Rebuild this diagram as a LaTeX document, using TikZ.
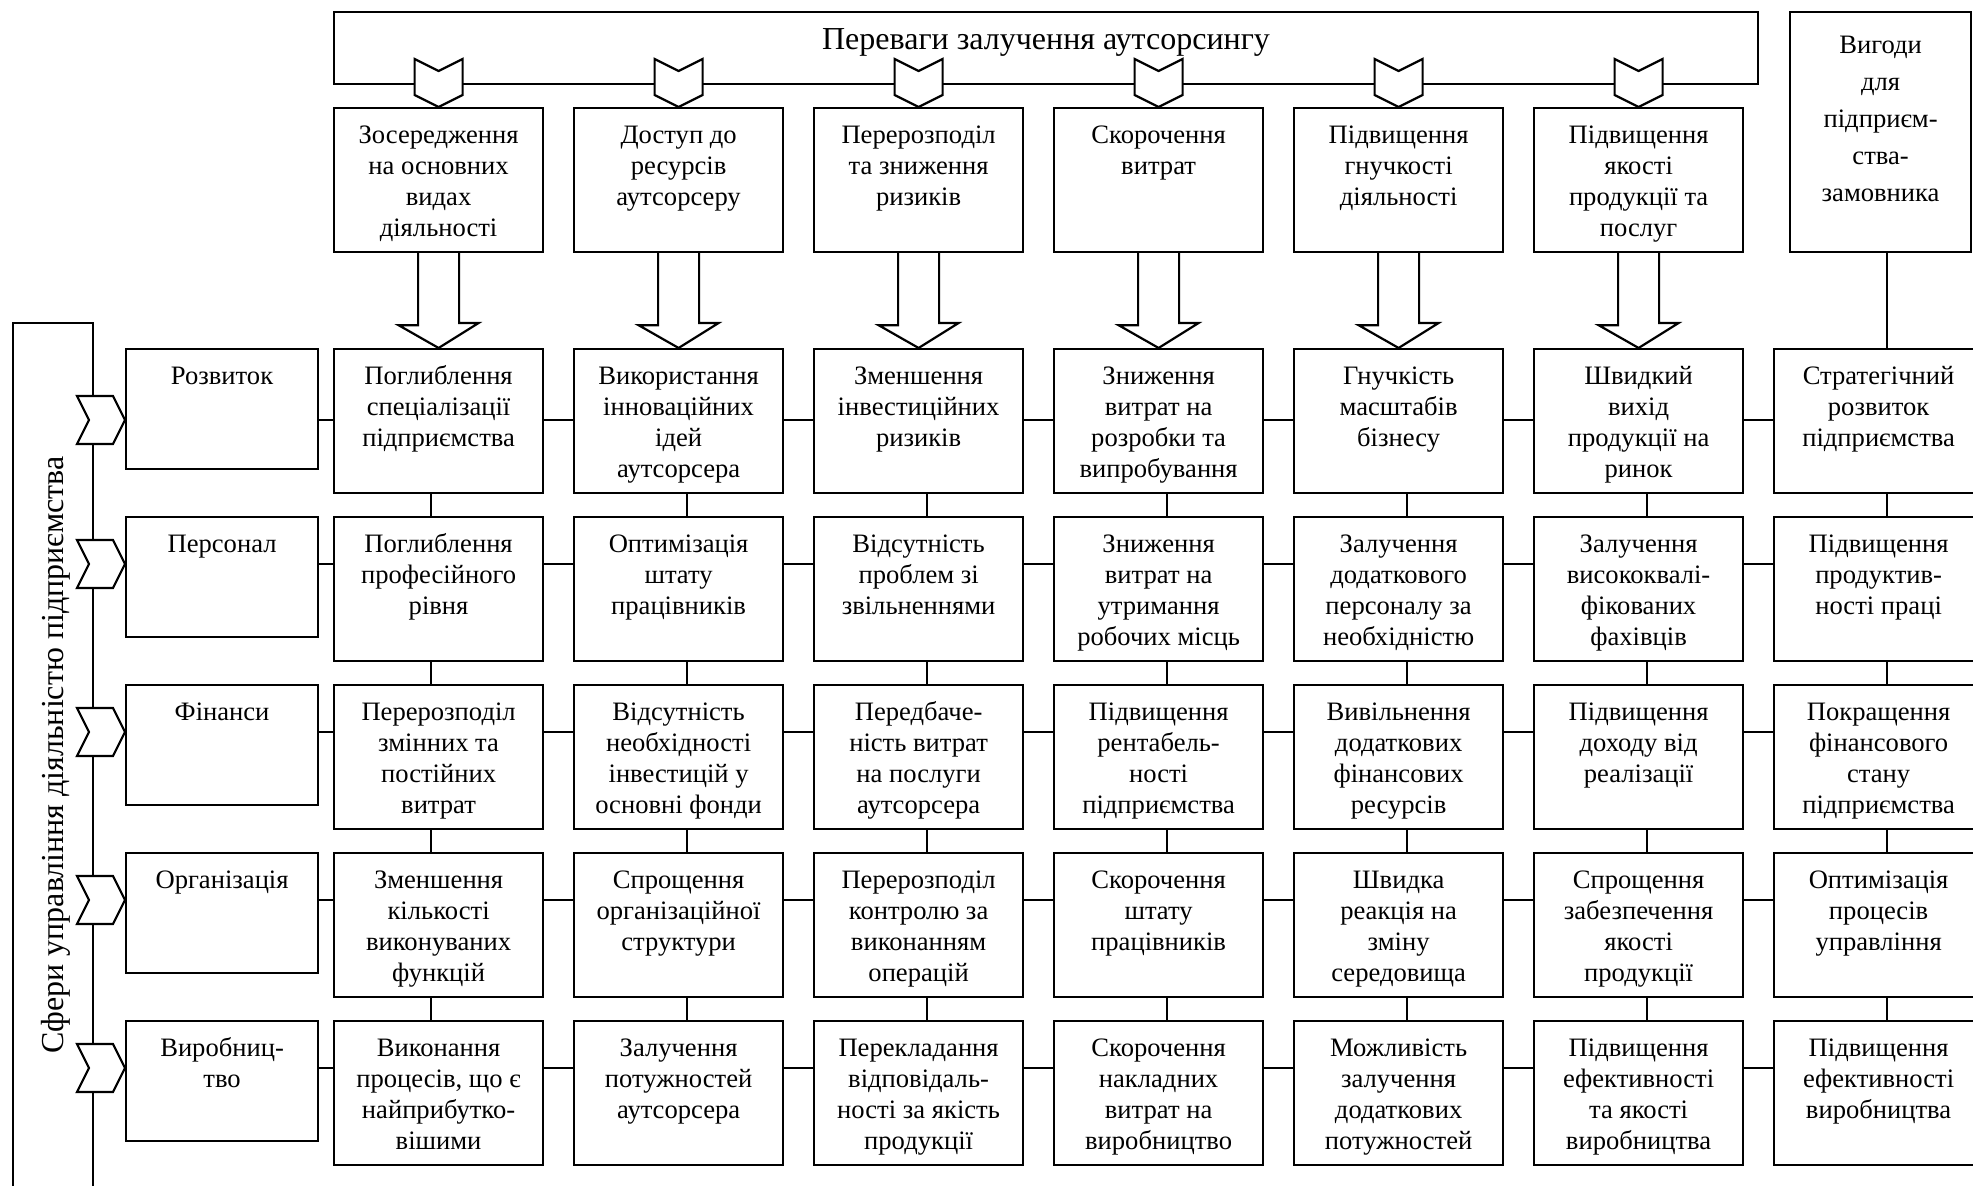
\documentclass[tikz,border=0pt]{standalone}
\usepackage{fontspec}
\setmainfont{Liberation Serif}
\usetikzlibrary{positioning, calc}

\begin{document}
\begin{tikzpicture}[
    x=0.5pt, y=-0.5pt,
    font=\fontsize{13.3}{15.5}\selectfont,
    cellbox/.style={draw, line width=1.1pt, inner sep=0pt, anchor=north west},
    link/.style={line width=1.1pt},
    blockarrow/.style={line width=1.1pt, line join=miter},
    notch/.style={draw, fill=white, line width=1.1pt, line join=miter}
]

\useasboundingbox (0,0) rectangle (1973,1186);
\clip (0,0) rectangle (1973,1186);

% Sizes of the boxes
\def\colW{104.5pt}
\def\colH{72pt}
\def\sideW{96pt}
\def\sideH{60pt}

\newcommand{\boxtext}[3]{\parbox[c][#2][t]{#1}{\centering\rule{0pt}{17.5pt}#3}}
\newcommand{\advcell}[2]{\node[cellbox] (a#1) at ({333+240*(#1-1)}, 107) {\boxtext{\colW}{\colH}{#2}};}
\newcommand{\areacell}[2]{\node[cellbox] (s#1) at (125, {348+168*(#1-1)}) {\boxtext{\sideW}{\sideH}{#2}};}
\newcommand{\gaincell}[3]{\node[cellbox] (c#1#2) at ({333+240*(#1-1)}, {348+168*(#2-1)}) {\boxtext{\colW}{\colH}{#3}};}

% ==========================================
% Переваги залучення аутсорсингу
\node[cellbox, minimum width=712pt, minimum height=36pt] (advframe) at (333,11) {};
\node[anchor=base, font=\fontsize{16}{19}\selectfont] (advtitle) at (1046,50) {Переваги залучення аутсорсингу};

\advcell{1}{Зосередження\\на основних\\видах\\діяльності}
\advcell{2}{Доступ до\\ресурсів\\аутсорсеру}
\advcell{3}{Перерозподіл\\та зниження\\ризиків}
\advcell{4}{Скорочення\\витрат}
\advcell{5}{Підвищення\\гнучкості\\діяльності}
\advcell{6}{Підвищення\\якості\\продукції та\\послуг}
\node[cellbox] (a7) at (1789,11) {\parbox[c][120pt][t]{90.5pt}{\centering\fontsize{13.3}{18.5}\selectfont\rule{0pt}{20.5pt}Вигоди\\для\\підприєм-\\ства-\\замовника}};

% ==========================================
% Сфери управління
\node[rotate=90, anchor=base, font=\fontsize{16}{19}\selectfont] (areas) at (63,755) {Сфери управління діяльністю підприємства};
\coordinate (spinetop) at (93,323);
\coordinate (spinebot) at (93,1190);
\draw[link] (spinebot) -- (spinetop) -| (13,1190);
\foreach \r/\y in {1/420, 2/564, 3/732, 4/900, 5/1068} {
    \coordinate (k\r) at (93,\y);
}

\areacell{1}{Розвиток}
\areacell{2}{Персонал}
\areacell{3}{Фінанси}
\areacell{4}{Організація}
\areacell{5}{Виробниц-\\тво}

% Розвиток
\gaincell{1}{1}{Поглиблення\\спеціалізації\\підприємства}
\gaincell{2}{1}{Використання\\інноваційних\\ідей\\аутсорсера}
\gaincell{3}{1}{Зменшення\\інвестиційних\\ризиків}
\gaincell{4}{1}{Зниження\\витрат на\\розробки та\\випробування}
\gaincell{5}{1}{Гнучкість\\масштабів\\бізнесу}
\gaincell{6}{1}{Швидкий\\вихід\\продукції на\\ринок}
\gaincell{7}{1}{Стратегічний\\розвиток\\підприємства}

% Персонал
\gaincell{1}{2}{Поглиблення\\професійного\\рівня}
\gaincell{2}{2}{Оптимізація\\штату\\працівників}
\gaincell{3}{2}{Відсутність\\проблем зі\\звільненнями}
\gaincell{4}{2}{Зниження\\витрат на\\утримання\\робочих місць}
\gaincell{5}{2}{Залучення\\додаткового\\персоналу за\\необхідністю}
\gaincell{6}{2}{Залучення\\висококвалі-\\фікованих\\фахівців}
\gaincell{7}{2}{Підвищення\\продуктив-\\ності праці}

% Фінанси
\gaincell{1}{3}{Перерозподіл\\змінних та\\постійних\\витрат}
\gaincell{2}{3}{Відсутність\\необхідності\\інвестицій у\\основні фонди}
\gaincell{3}{3}{Передбаче-\\ність витрат\\на послуги\\аутсорсера}
\gaincell{4}{3}{Підвищення\\рентабель-\\ності\\підприємства}
\gaincell{5}{3}{Вивільнення\\додаткових\\фінансових\\ресурсів}
\gaincell{6}{3}{Підвищення\\доходу від\\реалізації}
\gaincell{7}{3}{Покращення\\фінансового\\стану\\підприємства}

% Організація
\gaincell{1}{4}{Зменшення\\кількості\\виконуваних\\функцій}
\gaincell{2}{4}{Спрощення\\організаційної\\структури}
\gaincell{3}{4}{Перерозподіл\\контролю за\\виконанням\\операцій}
\gaincell{4}{4}{Скорочення\\штату\\працівників}
\gaincell{5}{4}{Швидка\\реакція на\\зміну\\середовища}
\gaincell{6}{4}{Спрощення\\забезпечення\\якості\\продукції}
\gaincell{7}{4}{Оптимізація\\процесів\\управління}

% Виробництво
\gaincell{1}{5}{Виконання\\процесів, що є\\найприбутко-\\вішими}
\gaincell{2}{5}{Залучення\\потужностей\\аутсорсера}
\gaincell{3}{5}{Перекладання\\відповідаль-\\ності за якість\\продукції}
\gaincell{4}{5}{Скорочення\\накладних\\витрат на\\виробництво}
\gaincell{5}{5}{Можливість\\залучення\\додаткових\\потужностей}
\gaincell{6}{5}{Підвищення\\ефективності\\та якості\\виробництва}
\gaincell{7}{5}{Підвищення\\ефективності\\виробництва}

% ==========================================
% Connectors
\foreach \c in {1,...,6} {
    \draw[blockarrow] ([xshift=-10.25pt]a\c.south) -- ++(0,72) -- ++(-19.5,0) -- (c\c1.north)
        -- ++(40,-25) -- ++(-19.5,0) -- ([xshift=10.25pt]a\c.south);
    \draw[notch] (a\c.north) -- ++(-24,-12) -- ++(0,-36) -- ++(24,12) -- ++(24,-12) -- ++(0,36) -- cycle;
}
\draw[link] ([xshift=4pt]c71.north |- a7.south) -- ([xshift=4pt]c71.north);

\foreach \c/\dx in {1/-4pt, 2/4pt, 3/4pt, 4/4pt, 5/4pt, 6/4pt, 7/4pt} {
    \foreach \r [evaluate=\r as \n using int(\r+1)] in {1,...,4} {
        \draw[link] ([xshift=\dx]c\c\r.south) -- ([xshift=\dx]c\c\n.north);
    }
}

\foreach \r in {1,...,5} {
    \draw[link] (s\r.east |- k\r) -- (c1\r.west |- k\r);
    \foreach \c [evaluate=\c as \n using int(\c+1)] in {1,...,6} {
        \draw[link] (c\c\r.east |- k\r) -- (c\n\r.west |- k\r);
    }
    \draw[notch] (k\r) ++(-16,-24) -- ++(36,0) -- ++(12,24) -- ++(-12,24) -- ++(-36,0) -- ++(12,-24) -- cycle;
}

\end{tikzpicture}
\end{document}
